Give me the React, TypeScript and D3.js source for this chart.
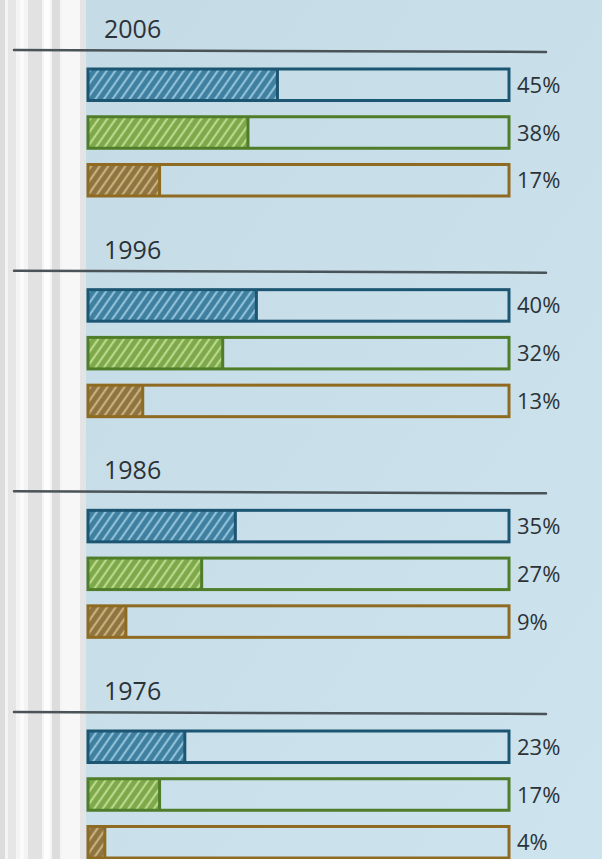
import React from "react";
import * as d3 from "d3";

const years = ["2006", "1996", "1986", "1976"];
const series = ["a", "b", "c"];
const values2006 = [45, 38, 17];
const values1996 = [40, 32, 13];
const values1986 = [35, 27, 9];
const values1976 = [23, 17, 4];
const valuesByYear = [values2006, values1996, values1986, values1976];

const W = 602;
const H = 859;

const strokeColors = ["#1d5672", "#4f7d2a", "#8f6b22"];
const fillColors = ["#3f7f9f", "#7ea94a", "#8e7440"];
const hatchColors = ["#8fc0d8", "#b9d88c", "#c9b07a"];

export default function App() {
  const x = d3.scaleLinear().domain([0, 100]).range([88, 509]);
  const gy = d3.scalePoint<string>().domain(years).range([50, 712]);
  const by = d3
    .scaleBand<string>()
    .domain(series)
    .range([19, 146])
    .paddingInner(0.34)
    .paddingOuter(0);
  const bh = by.bandwidth();

  return (
    <svg
      width={W}
      height={H}
      style={{ position: "absolute", left: 0, top: 0, display: "block" }}
    >
      <defs>
        {series.map((s, i) => (
          <pattern
            key={s}
            id={`hatch${i}`}
            patternUnits="userSpaceOnUse"
            width={7}
            height={7}
            patternTransform="rotate(35)"
          >
            <rect width={7} height={7} fill={fillColors[i]} />
            <line x1={2} y1={0} x2={2} y2={7} stroke={hatchColors[i]} strokeWidth={2.2} />
          </pattern>
        ))}
        <linearGradient id="bg" x1="0" x2="1" y1="0" y2="1">
          <stop offset="0" stopColor="#c4dae4" />
          <stop offset="1" stopColor="#cde3ee" />
        </linearGradient>
      </defs>
      <rect x={0} y={0} width={W} height={H} fill="url(#bg)" />
      {/* left window frame strip */}
      <rect x={0} y={0} width={86} height={H} fill="#f4f4f4" />
      <rect x={0} y={0} width={5} height={H} fill="#dcdcdc" />
      <rect x={8} y={0} width={8} height={H} fill="#e6e6e6" />
      <rect x={20} y={0} width={4} height={H} fill="#fbfbfb" />
      <rect x={28} y={0} width={14} height={H} fill="#e2e2e2" />
      <rect x={44} y={0} width={6} height={H} fill="#fdfdfd" />
      <rect x={52} y={0} width={8} height={H} fill="#dddddd" />
      <rect x={62} y={0} width={18} height={H} fill="#f7f7f7" />
      <rect x={80} y={0} width={6} height={H} fill="#e4e4e4" />

      {years.map((yr, gi) => {
        const top = gy(yr)!;
        const vals = valuesByYear[gi];
        return (
          <g key={yr}>
            <text
              x={104}
              y={top - 12}
              fontFamily="'Open Sans', sans-serif"
              fontSize={25}
              fill="#2b3338"
            >
              {yr}
            </text>
            <line
              x1={14}
              x2={546}
              y1={top}
              y2={top + 2}
              stroke="#4a5458"
              strokeWidth={2.5}
              strokeLinecap="round"
            />
            {series.map((s, i) => {
              const y0 = top + by(s)!;
              return (
                <g key={s}>
                  <rect
                    x={x(0)}
                    y={y0}
                    width={x(vals[i]) - x(0)}
                    height={bh}
                    fill={`url(#hatch${i})`}
                  />
                  <rect
                    x={x(0)}
                    y={y0}
                    width={x(100) - x(0)}
                    height={bh}
                    fill="none"
                    stroke={strokeColors[i]}
                    strokeWidth={3}
                  />
                  <line
                    x1={x(vals[i])}
                    x2={x(vals[i])}
                    y1={y0}
                    y2={y0 + bh}
                    stroke={strokeColors[i]}
                    strokeWidth={3}
                  />
                  <text
                    x={x(100) + 8}
                    y={y0 + bh / 2 + 8}
                    fontFamily="'Open Sans', sans-serif"
                    fontSize={22}
                    fill="#2b3338"
                  >
                    {vals[i]}%
                  </text>
                </g>
              );
            })}
          </g>
        );
      })}
    </svg>
  );
}
